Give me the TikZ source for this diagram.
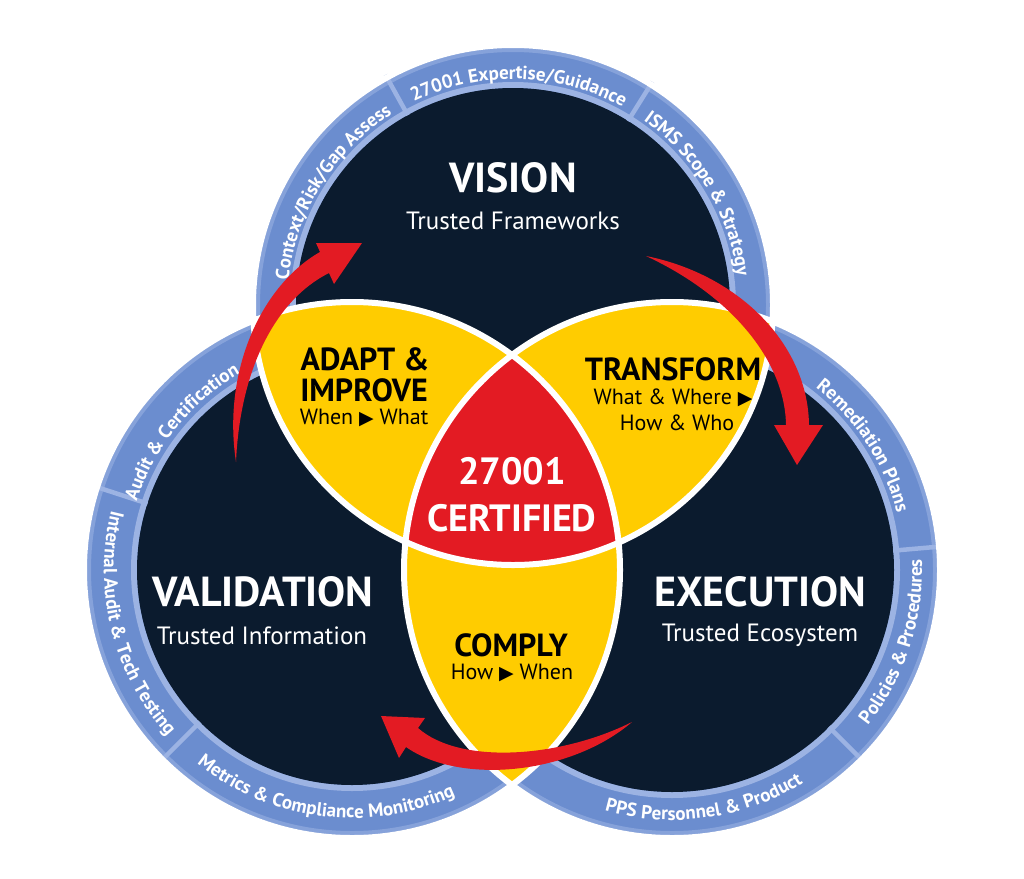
\documentclass[tikz,border=0pt]{standalone}
\usepackage{fontspec}
\setmainfont{PT Sans}
\newfontfamily\symfont{DejaVu Sans}
\usetikzlibrary{decorations.text}
\definecolor{navy}{HTML}{0B1B2E}
\definecolor{ringblue}{HTML}{6B8DCF}
\definecolor{ringlight}{HTML}{9CB3E3}
\definecolor{ringedge}{HTML}{86A2DA}
\definecolor{vyellow}{HTML}{FFCC00}
\definecolor{vred}{HTML}{E31B23}
\newcommand\ringfont{\fontsize{19}{19}\selectfont\bfseries}
\newcommand\tri{{\symfont\fontsize{19}{19}\selectfont ▶}}
\begin{document}
\begin{tikzpicture}[x=1pt,y=-1pt,
  title/.style={font=\fontsize{42}{42}\selectfont\bfseries, text=white, anchor=base, inner sep=0pt},
  subtitle/.style={font=\fontsize{25}{25}\selectfont, text=white, anchor=base, inner sep=0pt},
  ytitle/.style={font=\fontsize{32}{32}\selectfont\bfseries, text=black, anchor=base, inner sep=0pt},
  ysub/.style={font=\fontsize{22}{22}\selectfont, text=black, anchor=base, inner sep=0pt},
  ctitle/.style={font=\fontsize{38}{38}\selectfont\bfseries, text=white, anchor=base, inner sep=0pt},
  sepline/.style={ringlight, line width=4.5pt},
  ringtext/.style={decorate, decoration={text along path, text align=center, text={|\ringfont\color{white}|#1}}},
  redarrow/.style={fill=vred},
]
\useasboundingbox (0,0) rectangle (1024,878);
\fill[white] (0,0) rectangle (1024,878);

\coordinate (T) at (513,305);
\coordinate (L) at (352,570);
\coordinate (R) at (672,570);

% circles: ring + dark disc
\fill[ringblue] (T) circle[radius=260];
\draw[ringedge, line width=4pt] (T) circle[radius=255];
\draw[ringlight, line width=6pt] (T) circle[radius=220];
\fill[navy] (T) circle[radius=217];

\fill[ringblue] (L) circle[radius=268];
\draw[ringedge, line width=4pt] (L) circle[radius=263];
\draw[ringlight, line width=6pt] (L) circle[radius=218];
\fill[navy] (L) circle[radius=215];

\fill[ringblue] (R) circle[radius=268];
\draw[ringedge, line width=4pt] (R) circle[radius=263];
\draw[ringlight, line width=6pt] (R) circle[radius=225];
\fill[navy] (R) circle[radius=222];

% separators
\draw[sepline] (T) ++(-119:217) -- ++(-119:46);
\draw[sepline] (T) ++(-58:217) -- ++(-58:46);
\draw[sepline] (L) ++(-162:215) -- ++(-162:55);
\draw[sepline] (L) ++(-225:215) -- ++(-225:55);
\draw[sepline] (R) ++(-5:222) -- ++(-5:48);
\draw[sepline] (R) ++(45:222) -- ++(45:48);

% ring texts
\path[ringtext={Context/Risk/Gap Assess}] (T) ++(-188:226) arc[start angle=-188, end angle=-108, radius=226];
\path[ringtext={27001 Expertise/Guidance}] (T) ++(-130:226) arc[start angle=-130, end angle=-47, radius=226];
\path[ringtext={ISMS Scope {\&} Strategy}] (T) ++(-71:226) arc[start angle=-71, end angle=9, radius=226];

\path[ringtext={Audit {\&} Certification}] (L) ++(-181:226) arc[start angle=-181, end angle=-101, radius=226];
\path[ringtext={Internal Audit {\&} Tech Testing}] (L) ++(-154:248) arc[start angle=-154, end angle=-234, radius=248];
\path[ringtext={Metrics {\&} Compliance Monitoring}] (L) ++(-213:248) arc[start angle=-213, end angle=-313, radius=248];

\path[ringtext={Remediation Plans}] (R) ++(-73:232) arc[start angle=-73, end angle=7, radius=232];
\path[ringtext={Policies {\&} Procedures}] (R) ++(58:250) arc[start angle=58, end angle=-22, radius=250];
\path[ringtext={PPS Personnel {\&} Product}] (R) ++(-233:250) arc[start angle=-233, end angle=-323, radius=250];

% overlaps
\begin{scope}
  \clip (T) circle[radius=260];
  \fill[vyellow] (L) circle[radius=268];
  \fill[vyellow] (R) circle[radius=268];
\end{scope}
\begin{scope}
  \clip (L) circle[radius=268];
  \fill[vyellow] (R) circle[radius=268];
\end{scope}
\begin{scope}
  \clip (T) circle[radius=260];
  \clip (L) circle[radius=268];
  \fill[vred] (R) circle[radius=268];
\end{scope}
\draw[white, line width=6pt] (T) circle[radius=260] (L) circle[radius=268] (R) circle[radius=268];

% labels
\node[title] (vision) at (513,192) {VISION};
\node[subtitle] (visionsub) at (513,229) {Trusted Frameworks};
\node[title] (validation) at (263,606) {VALIDATION};
\node[subtitle] (validationsub) at (262,644) {Trusted Information};
\node[title] (execution) at (760,606) {EXECUTION};
\node[subtitle] (executionsub) at (760,641) {Trusted Ecosystem};

\node[ytitle] (adapt) at (365,370) {ADAPT \&};
\node[ytitle] (improve) at (364,401) {IMPROVE};
\node[ysub] (adaptsub) at (364,424) {When \tri\ What};
\node[ytitle] (transform) at (673,380) {TRANSFORM};
\node[ysub] (transformsub1) at (673,404) {What \& Where \tri};
\node[ysub] (transformsub2) at (677,430) {How \& Who};
\node[ctitle] (c27001) at (512,484) {27001};
\node[ctitle] (certified) at (512,531) {CERTIFIED};
\node[ytitle] (comply) at (511,656) {COMPLY};
\node[ysub] (complysub) at (512,679) {How \tri\ When};

% red arrows
\coordinate (a1t) at (236,462);
\coordinate (a1h) at (362,243);
\coordinate (a1w1) at (316,243);
\coordinate (a1w2) at (334,284);
\coordinate (a1b1) at (320,252);
\coordinate (a1b2) at (329,273);
\fill[redarrow] (a1t) .. controls (222,370) and (262,285) .. (a1b1) -- (a1w1) -- (a1h) -- (a1w2) -- (a1b2) .. controls (275,300) and (240,370) .. (a1t) -- cycle;

\coordinate (a2t) at (646,256);
\coordinate (a2h) at (797,465);
\coordinate (a2w1) at (774,425);
\coordinate (a2w2) at (823,425);
\coordinate (a2b1) at (786,425);
\coordinate (a2b2) at (809,425);
\fill[redarrow] (a2t) .. controls (740,275) and (808,345) .. (a2b2) -- (a2w2) -- (a2h) -- (a2w1) -- (a2b1) .. controls (785,360) and (730,295) .. (a2t) -- cycle;

\coordinate (a3t) at (632,722);
\coordinate (a3h) at (381,716);
\coordinate (a3w1) at (425,718);
\coordinate (a3w2) at (399,758);
\coordinate (a3b1) at (418,728);
\coordinate (a3b2) at (406,747);
\fill[redarrow] (a3t) .. controls (570,775) and (460,785) .. (a3b2) -- (a3w2) -- (a3h) -- (a3w1) -- (a3b1) .. controls (460,765) and (560,758) .. (a3t) -- cycle;
\end{tikzpicture}
\end{document}
